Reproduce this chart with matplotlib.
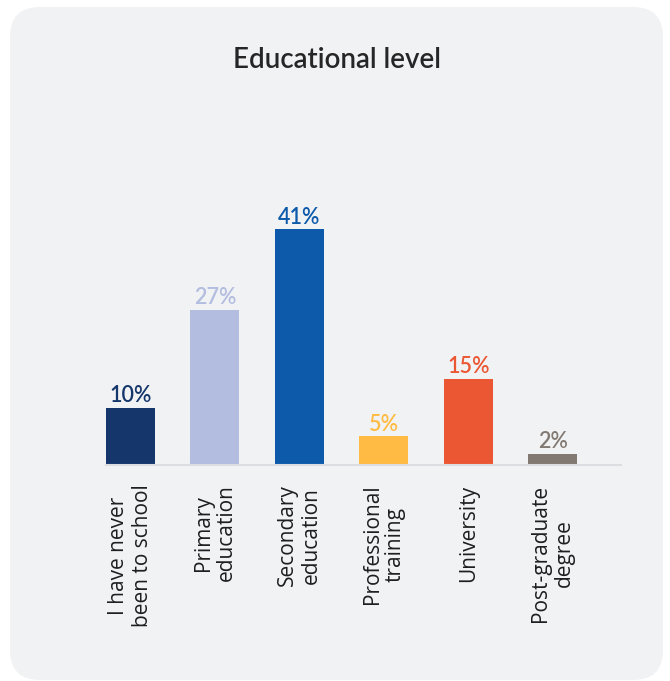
import matplotlib
matplotlib.use("Agg")
import matplotlib.pyplot as plt
from matplotlib.patches import FancyBboxPatch

categories = ["I have never\nbeen to school", "Primary\neducation", "Secondary\neducation",
              "Professional\ntraining", "University", "Post-graduate\ndegree"]
values = [10, 27, 41, 5, 15, 2]
colors = ["#15366b", "#b3bde0", "#0d5aaa", "#ffbb44", "#eb5733", "#827a72"]
title = "Educational level"

W, H = 670, 681
fig = plt.figure(figsize=(W / 100, H / 100), dpi=100, facecolor="white")

# rounded card behind the chart, laid out in pixel units
bg = fig.add_axes([0, 0, 1, 1], zorder=0)
bg.set_xlim(0, W)
bg.set_ylim(H, 0)
bg.axis("off")
bg.add_patch(FancyBboxPatch((10, 7), 653, 673, boxstyle="round,pad=0,rounding_size=30",
                            facecolor="#f1f2f4", edgecolor="none"))
bg.text(337, 60, title, ha="center", va="center", fontsize=20, color="#262626",
        family="Lato", fontweight="semibold")

# bar chart area
left, right, base, top = 106, 621, 465, 200
ax = fig.add_axes([left / W, (H - base) / H, (right - left) / W, (base - top) / H], zorder=1)
ax.patch.set_alpha(0)
x = range(len(values))
ax.bar(x, values, width=0.58, color=colors, zorder=2)
ax.set_xlim(-0.29, 5.81)
ax.set_ylim(0, 46.1)
for xi, v, c in zip(x, values, colors):
    ax.annotate(f"{v}%", (xi, v), xytext=(0, 1), textcoords="offset points",
                ha="center", va="bottom", fontsize=15.5, color=c, family="Lato",
                fontweight="semibold")

for s in ["top", "right", "left"]:
    ax.spines[s].set_visible(False)
ax.spines["bottom"].set_color("#dcdde1")
ax.spines["bottom"].set_linewidth(1.5)
ax.set_yticks([])
ax.set_xticks(list(x))
ax.set_xticklabels(categories, rotation=90, ha="center", va="top", multialignment="center",
                   fontsize=15, color="#1e1e1e", family="Open Sans", linespacing=1.15)
ax.tick_params(axis="x", length=0, pad=14)

fig.savefig("out.png", dpi=100, facecolor="white")
